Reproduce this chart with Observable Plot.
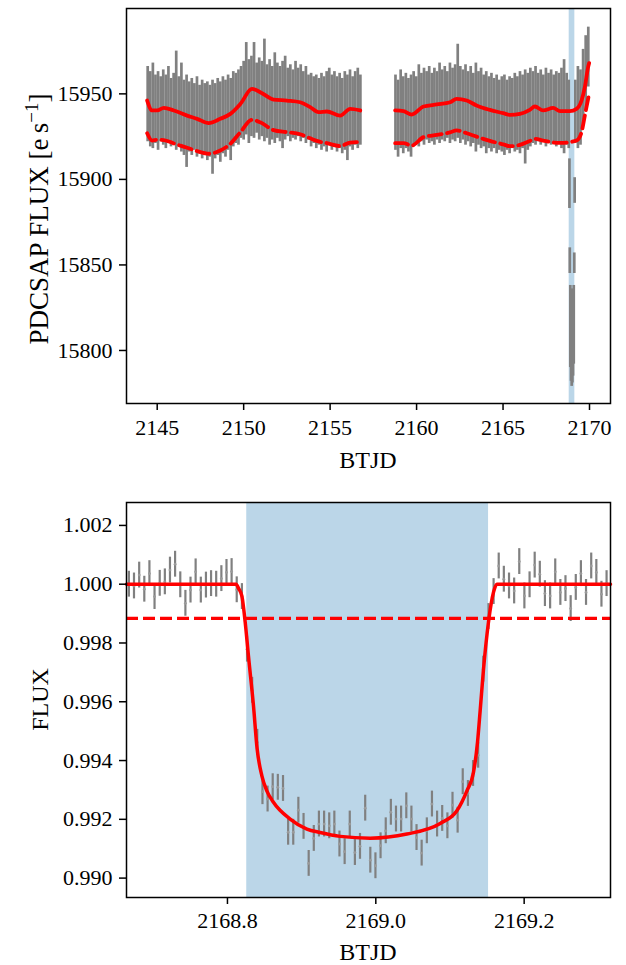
<!DOCTYPE html>
<html><head><meta charset="utf-8">
<script src="https://cdn.jsdelivr.net/npm/d3@7"></script>
<script src="https://cdn.jsdelivr.net/npm/@observablehq/plot@0.6"></script>
<style>
html,body{margin:0;padding:0;background:#fff;overflow:hidden;}
#chart{width:626px;}
#chart svg{display:block;}
</style></head><body><div id="chart"></div>
<script>
// ---------- TOP PANEL DATA (full light curve, columns of error-bar extents) ----------
const topTime = [
 2144.45,2144.60,2144.75,2144.90,2145.05,2145.20,2145.35,2145.50,2145.65,2145.80,
 2145.95,2146.10,2146.25,2146.40,2146.55,2146.70,2146.85,2147.00,2147.15,2147.30,
 2147.45,2147.60,2147.75,2147.90,2148.05,2148.20,2148.35,2148.50,2148.65,2148.80,
 2148.95,2149.10,2149.25,2149.40,2149.55,2149.70,2149.85,2150.00,2150.15,2150.30,
 2150.45,2150.60,2150.75,2150.90,2151.05,2151.20,2151.35,2151.50,2151.65,2151.80,
 2151.95,2152.10,2152.25,2152.40,2152.55,2152.70,2152.85,2153.00,2153.15,2153.30,
 2153.45,2153.60,2153.75,2153.90,2154.05,2154.20,2154.35,2154.50,2154.65,2154.80,
 2154.95,2155.10,2155.25,2155.40,2155.55,2155.70,2155.85,2156.00,2156.15,2156.30,
 2156.45,2156.60,2156.75,
 2158.78,2158.93,2159.08,2159.23,2159.38,2159.53,2159.68,2159.83,2159.98,2160.13,
 2160.28,2160.43,2160.58,2160.73,2160.88,2161.03,2161.18,2161.33,2161.48,2161.63,
 2161.78,2161.93,2162.08,2162.23,2162.38,2162.53,2162.68,2162.83,2162.98,2163.13,
 2163.28,2163.43,2163.58,2163.73,2163.88,2164.03,2164.18,2164.33,2164.48,2164.63,
 2164.78,2164.93,2165.08,2165.23,2165.38,2165.53,2165.68,2165.83,2165.98,2166.13,
 2166.28,2166.43,2166.58,2166.73,2166.88,2167.03,2167.18,2167.33,2167.48,2167.63,
 2167.78,2167.93,2168.08,2168.23,2168.38,2168.53,2168.68,2168.80,
 2168.84,2168.86,2168.89,2168.93,2168.97,2169.01,2169.05,2169.09,2169.12,2169.14,
 2169.18,2169.33,2169.48,2169.63,2169.78,2169.93
];
const topHigh = [
 15966,15963,15968,15961,15963,15960,15964,15961,15966,15959,
 15962,15975,15960,15968,15958,15961,15957,15959,15956,15960,
 15955,15958,15956,15957,15955,15958,15956,15959,15957,15960,
 15958,15961,15959,15963,15962,15964,15966,15969,15980,15970,
 15972,15980,15968,15971,15969,15982,15967,15970,15966,15974,
 15968,15966,15969,15972,15965,15967,15964,15969,15965,15967,
 15963,15966,15961,15962,15960,15961,15959,15962,15960,15963,
 15965,15961,15963,15960,15962,15959,15963,15961,15964,15960,
 15963,15965,15961,
 15961,15958,15964,15960,15962,15959,15961,15963,15960,15967,
 15962,15965,15963,15966,15962,15965,15963,15968,15964,15966,
 15963,15968,15965,15967,15979,15966,15964,15967,15963,15966,
 15962,15968,15963,15965,15961,15963,15960,15962,15959,15961,
 15958,15960,15961,15958,15960,15959,15962,15960,15963,15961,
 15964,15962,15965,15963,15966,15962,15964,15961,15965,15962,
 15964,15961,15963,15962,15965,15970,15962,15958,
 15912,15860,15838,15835,15832,15836,15834,15838,15857,15901,
 15958,15966,15964,15976,15984,15989
];
const topLow = [
 15922,15919,15918,15921,15917,15922,15920,15918,15921,15919,
 15920,15917,15919,15916,15914,15907,15916,15914,15917,15913,
 15915,15912,15914,15911,15913,15903,15912,15914,15910,15915,
 15913,15917,15911,15919,15921,15920,15924,15923,15926,15921,
 15925,15924,15927,15923,15925,15922,15924,15920,15923,15921,
 15924,15922,15918,15923,15925,15922,15924,15923,15925,15922,
 15924,15921,15923,15919,15921,15918,15920,15917,15919,15916,
 15920,15917,15919,15916,15918,15915,15917,15911,15919,15917,
 15920,15918,15920,
 15917,15913,15918,15915,15918,15916,15913,15919,15921,15919,
 15922,15920,15923,15921,15922,15920,15923,15921,15923,15922,
 15924,15921,15923,15922,15924,15921,15923,15920,15922,15919,
 15921,15916,15920,15918,15919,15915,15918,15916,15918,15915,
 15917,15916,15914,15917,15915,15918,15916,15917,15915,15918,
 15909,15917,15919,15921,15920,15922,15920,15922,15919,15921,
 15920,15922,15919,15921,15918,15915,15920,15918,
 15883,15845,15790,15782,15779,15781,15785,15792,15845,15886,
 15921,15918,15920,15932,15940,15954
];

// smoothed trend (solid) and lower threshold (dashed), two orbit segments
const trendSegment = [
 1,1,1,1,1,1,1,1,1,1,1,1,1,1,1,1,1,1,1,1,1,1,
 2,2,2,2,2,2,2,2,2,2,2,2,2,2,2,2,2,2,2,2,2,2,2,2
];
const trendTime = [
 2144.42,2144.71,2145.00,2145.38,2145.96,2146.73,2147.31,2147.98,2148.65,2149.23,2149.81,
 2150.48,2150.96,2151.73,2152.50,2153.27,2153.85,2154.33,2154.81,2155.58,2156.16,2156.74,
 2158.76,2159.24,2159.72,2160.40,2161.17,2161.94,2162.32,2162.90,2163.47,2164.24,2165.01,
 2165.40,2165.98,2166.55,2166.84,2167.32,2167.90,2168.29,2168.86,2169.25,2169.54,2169.73,
 2169.92,2169.98
];
const trendFlux = [
 15946.1,15940.3,15940.3,15941.8,15940.3,15937.3,15935.4,15932.9,15935.4,15938.3,15944.1,
 15952.9,15951.0,15946.7,15946.1,15945.1,15942.2,15939.3,15939.7,15937.3,15941.2,15940.3,
 15940.3,15939.9,15937.9,15942.6,15943.8,15945.1,15947.1,15946.1,15943.2,15940.6,15938.7,
 15937.7,15938.3,15940.6,15942.6,15940.3,15941.8,15939.9,15939.9,15941.2,15946.1,15953.9,
 15965.6,15968.0
];
const trendLower = [
 15927.0,15922.7,15923.2,15923.0,15921.0,15918.5,15916.5,15915.0,15916.9,15920.8,15927.6,
 15934.8,15933.4,15928.8,15927.6,15926.4,15924.0,15922.2,15921.2,15919.5,15921.5,15921.8,
 15921.2,15921.2,15919.8,15924.7,15926.0,15927.5,15928.6,15927.0,15925.0,15922.5,15920.5,
 15919.4,15920.2,15922.5,15923.7,15922.7,15921.6,15921.3,15921.8,15922.7,15927.6,15937.3,
 15947.1,15950.0
];

// transit window (shaded)
const transitWindow = [2168.826, 2169.152];

// ---------- BOTTOM PANEL DATA (binned, normalised flux around the transit) ----------
const binTime = [
 2168.6671,2168.6740,2168.6810,2168.6879,2168.6948,2168.7017,2168.7087,2168.7156,2168.7225,2168.7294,
 2168.7364,2168.7433,2168.7502,2168.7571,2168.7641,2168.7710,2168.7779,2168.7848,2168.7918,2168.7987,
 2168.8056,2168.8125,2168.8195,2168.8264,2168.8333,2168.8402,2168.8472,2168.8541,2168.8610,2168.8679,
 2168.8749,2168.8818,2168.8887,2168.8956,2168.9026,2168.9095,2168.9164,2168.9233,2168.9303,2168.9372,
 2168.9441,2168.9510,2168.9580,2168.9649,2168.9718,2168.9787,2168.9857,2168.9926,2168.9995,2169.0064,
 2169.0134,2169.0203,2169.0272,2169.0341,2169.0411,2169.0480,2169.0549,2169.0618,2169.0688,2169.0757,
 2169.0826,2169.0895,2169.0965,2169.1034,2169.1103,2169.1172,2169.1242,2169.1311,2169.1380,2169.1449,
 2169.1519,2169.1588,2169.1657,2169.1726,2169.1796,2169.1865,2169.1934,2169.2003,2169.2073,2169.2142,
 2169.2211,2169.2280,2169.2350,2169.2419,2169.2488,2169.2557,2169.2627,2169.2696,2169.2765,2169.2834,
 2169.2904,2169.2973,2169.3042,2169.3111
];
const binFlux = [
 1.00000,0.99994,1.00031,0.99983,1.00036,0.99958,1.00003,1.00008,1.00048,1.00068,
 0.99998,0.99935,0.99980,1.00042,0.99980,0.99997,1.00002,1.00000,1.00019,1.00040,
 1.00043,0.99981,0.99958,0.99779,0.99639,0.99462,0.99294,0.99269,0.99311,0.99309,
 0.99305,0.99156,0.99156,0.99231,0.99176,0.99050,0.99135,0.99184,0.99184,0.99178,
 0.99184,0.99116,0.99090,0.99184,0.99087,0.99108,0.99238,0.99061,0.99042,0.99110,
 0.99161,0.99224,0.99201,0.99201,0.99246,0.99201,0.99138,0.99085,0.99161,0.99252,
 0.99184,0.99203,0.99178,0.99248,0.99197,0.99328,0.99288,0.99356,0.99418,0.99711,
 0.99890,0.99975,1.00062,1.00017,0.99994,0.99977,1.00077,0.99960,0.99998,1.00065,
 1.00034,0.99968,0.99960,1.00042,0.99972,0.99985,0.99917,0.99989,1.00036,0.99972,
 1.00062,1.00040,0.99966,1.00002
];
const binFluxErr = 0.00044;

// transit model (solid)
const modelTime = [
 2168.6639,2168.8117,2168.8151,2168.8194,2168.8239,2168.8283,2168.8351,2168.8400,2168.8464,
 2168.8531,2168.8620,2168.8845,2168.9071,2168.9250,2168.9520,2168.9924,2169.0419,2169.0868,
 2169.1093,2169.1228,2169.1317,2169.1371,2169.1407,2169.1452,2169.1519,2169.1587,2169.1633,
 2169.3164
];
const modelFlux = [
 1.00000,1.00000,0.99985,0.99960,0.99871,0.99756,0.99586,0.99440,0.99348,
 0.99297,0.99258,0.99201,0.99167,0.99155,0.99142,0.99136,0.99150,0.99186,
 0.99229,0.99297,0.99360,0.99462,0.99570,0.99711,0.99871,0.99973,1.00000,
 1.00000
];
const detectionLevel = 0.99884;

// tick values
const topXTicks = [2145, 2150, 2155, 2160, 2165, 2170];
const topYTicks = [15800, 15850, 15900, 15950];
const botXTicks = [2168.8, 2169.0, 2169.2];
const botYTicks = [0.990, 0.992, 0.994, 0.996, 0.998, 1.000, 1.002];

// ---------- build ----------
const FONT = "'Liberation Serif','Times New Roman',Times,serif";
const FS = 22;      // tick labels
const LFS = 24;     // axis titles
const GRAY = "#808080";
const RED = "#ff0000";
const BAND = "#1f77b4";

const topRows = topTime.map((t, i) => ({t, lo: topLow[i], hi: topHigh[i]}));
const trendRows = trendTime.map((t, i) => ({t, f: trendFlux[i], lower: trendLower[i], seg: trendSegment[i]}));
const bandRows = [{a: transitWindow[0], b: transitWindow[1]}];
const binRows = binTime.map((t, i) => ({t, f: binFlux[i]}));
const modelRows = modelTime.map((t, i) => ({t, f: modelFlux[i]}));

const commonStyle = {fontFamily: FONT, fontSize: FS + "px", color: "black", background: "white", overflow: "visible"};

const topPlot = Plot.plot({
  width: 626, height: 485,
  marginTop: 8, marginBottom: 82, marginLeft: 126, marginRight: 16,
  style: commonStyle,
  x: {domain: [2143.2246, 2171.2144]},
  y: {domain: [15769.0, 15999.9]},
  marks: [
    Plot.rect(bandRows, {x1: "a", x2: "b", fill: BAND, fillOpacity: 0.3}),
    Plot.ruleX(topRows, {x: "t", y1: "lo", y2: "hi", stroke: GRAY, strokeWidth: 2.7}),
    Plot.line(trendRows, {x: "t", y: "f", z: "seg", stroke: RED, strokeWidth: 3.8, curve: "monotone-x"}),
    Plot.line(trendRows, {x: "t", y: "lower", z: "seg", stroke: RED, strokeWidth: 3.8, strokeDasharray: "13,5.5", curve: "monotone-x"}),
    Plot.frame({stroke: "black", strokeWidth: 1.5}),
    Plot.axisX({ticks: topXTicks, tickFormat: d3.format("d"), tickSize: 7, tickPadding: 9, strokeWidth: 1.5, label: null}),
    Plot.axisY({ticks: topYTicks, tickFormat: d3.format("d"), tickSize: 7, tickPadding: 7, strokeWidth: 1.5, label: null})
  ]
});

const botPlot = Plot.plot({
  width: 626, height: 480,
  marginTop: 17, marginBottom: 68, marginLeft: 126, marginRight: 16,
  style: commonStyle,
  x: {domain: [2168.6639, 2169.3164]},
  y: {domain: [0.98934, 1.00278]},
  marks: [
    Plot.rect(bandRows, {x1: "a", x2: "b", fill: BAND, fillOpacity: 0.3}),
    Plot.ruleX(binRows, {x: "t", y1: d => d.f - binFluxErr, y2: d => d.f + binFluxErr, stroke: GRAY, strokeWidth: 2.2}),
    Plot.dot(binRows, {x: "t", y: "f", r: 1.4, fill: "#9a9a9a", stroke: "none"}),
    Plot.ruleY([detectionLevel], {stroke: RED, strokeWidth: 3.3, strokeDasharray: "12,5"}),
    Plot.line(modelRows, {x: "t", y: "f", stroke: RED, strokeWidth: 3.5, curve: "monotone-x"}),
    Plot.frame({stroke: "black", strokeWidth: 1.5}),
    Plot.axisX({ticks: botXTicks, tickFormat: d3.format(".1f"), tickSize: 7, tickPadding: 8, strokeWidth: 1.5, label: null}),
    Plot.axisY({ticks: botYTicks, tickFormat: d3.format(".3f"), tickSize: 7, tickPadding: 7, strokeWidth: 1.5, label: null})
  ]
});

const chart = document.getElementById("chart");
chart.appendChild(topPlot);
chart.appendChild(botPlot);

// axis titles
function addXLabel(svg, text, y) {
  d3.select(svg).append("text")
    .attr("x", (126 + 610) / 2).attr("y", y)
    .attr("text-anchor", "middle").attr("dy", "0.35em")
    .attr("font-family", FONT).attr("font-size", LFS).attr("fill", "black")
    .text(text);
}
addXLabel(topPlot, "BTJD", 460);
addXLabel(botPlot, "BTJD", 467);

// top y label with superscript
{
  const t = d3.select(topPlot).append("text")
    .attr("transform", "translate(39,219) rotate(-90)")
    .attr("text-anchor", "middle").attr("dy", "0.35em")
    .attr("font-family", FONT).attr("font-size", 27).attr("fill", "black");
  t.append("tspan").text("PDCSAP FLUX [e\u2009s");
  t.append("tspan").attr("font-size", 19).attr("dy", -10).text("\u22121");
  t.append("tspan").attr("dy", 10).text("]");
}
d3.select(botPlot).append("text")
  .attr("transform", `translate(40,${(17 + 412) / 2}) rotate(-90)`)
  .attr("text-anchor", "middle").attr("dy", "0.35em")
  .attr("font-family", FONT).attr("font-size", LFS).attr("fill", "black")
  .text("FLUX");
</script>
</body></html>
